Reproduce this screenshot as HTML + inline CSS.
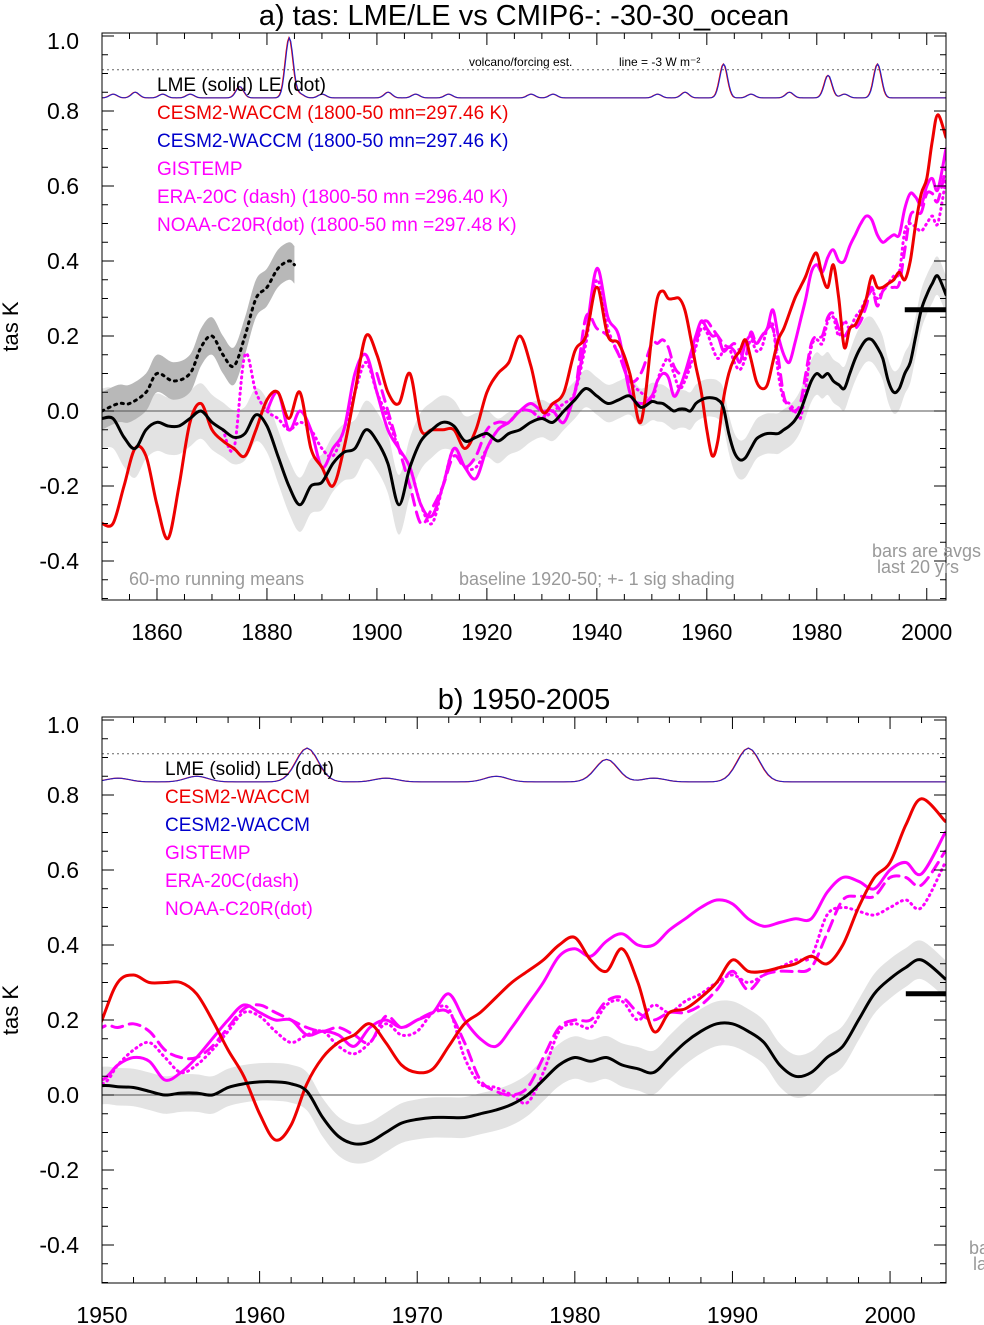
<!DOCTYPE html>
<html><head><meta charset="utf-8"><style>
html,body{margin:0;padding:0;background:#fff}
svg{display:block;font-family:"Liberation Sans",sans-serif}
</style></head><body>
<svg id="chart" width="984" height="1325" viewBox="0 0 984 1325" xmlns="http://www.w3.org/2000/svg"></svg>
<script>
// ---- data ----
const years = [];
for (let y = 1850; y <= 1948; y += 2) years.push(y);
for (let y = 1950; y <= 2002; y++) years.push(y);
years.push(2003.5);

const lme = [-0.02,-0.02,-0.07,-0.1,-0.05,-0.03,-0.04,-0.04,-0.02,0.0,-0.03,-0.05,-0.07,-0.06,-0.01,-0.04,-0.12,-0.2,-0.25,-0.2,-0.19,-0.14,-0.11,-0.1,-0.05,-0.08,-0.14,-0.25,-0.15,-0.08,-0.05,-0.03,-0.04,-0.08,-0.07,-0.06,-0.08,-0.06,-0.05,-0.03,-0.02,-0.03,0.0,0.03,0.06,0.04,0.02,0.03,0.04,0.01,
.025,.022,.02,.01,0,.005,.005,0,.02,.03,.035,.035,.03,.01,-.06,-.11,-.13,-.125,-.1,-.075,-.065,-.06,-.06,-.06,-.05,-.04,-.025,0,.04,.08,.1,.09,.1,.08,.07,.06,.1,.14,.17,.19,.19,.17,.14,.08,.05,.06,.1,.13,.2,.27,.31,.34,.36,.31];
const cesm = [-0.3,-0.3,-0.2,-0.1,-0.12,-0.25,-0.34,-0.2,-0.03,0.02,-0.05,-0.08,-0.1,-0.12,-0.05,0.03,0.05,-0.02,0.05,-0.1,-0.15,-0.2,-0.1,0.05,0.2,0.15,0.05,0.02,0.1,-0.05,-0.05,-0.05,-0.05,-0.1,-0.05,0.05,0.1,0.13,0.2,0.12,0.0,0.02,0.05,0.16,0.2,0.33,0.2,0.18,0.1,-0.03,
.2,.3,.32,.3,.3,.3,.27,.2,.12,.05,-.05,-.12,-.08,.03,.1,.14,.16,.19,.14,.08,.06,.07,.13,.19,.22,.26,.3,.33,.36,.4,.42,.36,.33,.39,.3,.17,.22,.23,.26,.3,.36,.33,.33,.34,.35,.37,.35,.4,.5,.58,.62,.72,.79,.73];
const gistemp = [null,null,null,null,null,null,null,null,null,null,null,null,null,null,null,
0.0,0.05,-0.05,0.0,-0.05,-0.15,-0.1,-0.05,0.1,0.15,0.05,-0.05,-0.1,-0.15,-0.25,-0.28,-0.2,-0.1,-0.15,-0.18,-0.1,-0.05,-0.03,0.0,0.02,0.0,0.0,-0.03,0.05,0.2,0.38,0.25,0.2,0.05,0.02,
.04,.08,.1,.09,.04,.06,.1,.15,.2,.24,.22,.2,.2,.16,.17,.16,.13,.18,.2,.18,.2,.22,.27,.2,.15,.13,.18,.24,.3,.37,.39,.37,.41,.43,.4,.4,.44,.47,.5,.52,.51,.47,.45,.46,.47,.47,.54,.58,.57,.55,.6,.62,.59,.7];
const era20c = [null,null,null,null,null,null,null,null,null,null,null,null,null,null,null,null,null,null,null,null,null,null,null,null,null,
0.1,0.0,-0.1,-0.2,-0.3,-0.26,-0.2,-0.12,-0.15,-0.12,-0.05,-0.03,-0.03,0.0,0.0,-0.02,0.02,0.0,0.05,0.25,0.22,0.2,0.15,0.08,0.1,
.18,.18,.19,.17,.12,.1,.1,.13,.18,.23,.24,.22,.2,.18,.17,.18,.16,.14,.21,.18,.2,.22,.22,.14,.04,.01,0,.02,.1,.18,.2,.2,.25,.26,.22,.2,.22,.22,.24,.28,.33,.28,.32,.33,.33,.34,.43,.52,.53,.53,.58,.58,.56,.65];
const noaa = [null,null,null,null,null,null,null,null,null,null,null,
-0.05,-0.1,0.15,0.05,0.0,-0.02,-0.05,-0.03,-0.05,-0.1,-0.12,-0.05,0.05,0.13,0.05,-0.02,-0.1,-0.15,-0.25,-0.3,-0.2,-0.1,-0.15,-0.15,-0.1,-0.05,-0.03,0.0,0.0,-0.02,0.0,0.02,0.05,0.18,0.35,0.22,0.15,0.08,0.05,
.03,.08,.12,.14,.1,.06,.08,.12,.17,.22,.21,.17,.14,.16,.17,.13,.11,.14,.19,.16,.17,.22,.23,.1,.03,.02,0,-.02,.06,.17,.19,.18,.24,.25,.2,.24,.22,.25,.27,.3,.32,.3,.32,.34,.36,.37,.48,.5,.49,.48,.5,.52,.5,.62];
const sigYears = [1850,1880,1905,1930,1960,1990,2003.5];
const sigVals = [0.08,0.07,0.08,0.05,0.05,0.06,0.05];
const leYears = [1850,1853,1855,1858,1860,1863,1866,1868,1870,1872,1874,1876,1878,1880,1882,1884,1885];
const leVals = [0.0,0.02,0.02,0.05,0.1,0.08,0.1,0.17,0.2,0.15,0.12,0.2,0.3,0.33,0.38,0.4,0.39];
const volcYears = [1852,1856,1861,1866,1875,1884,1886,1890,1902,1907,1913,1928,1932,1951,1956,1963,1968,1975,1982,1985,1991];
const volcPeaks = [0.01,0.015,0.01,0.01,0.03,0.16,0.01,0.01,0.015,0.01,0.01,0.01,0.01,0.01,0.015,0.09,0.01,0.015,0.06,0.01,0.09];
const barVal = 0.27;
const yTicks = [-0.4,-0.2,0.0,0.2,0.4,0.6,0.8,1.0];
const yTickLabels = ["-0.4","-0.2","0.0","0.2","0.4","0.6","0.8","1.0"];

// ---- drawing ----
const NS = "http://www.w3.org/2000/svg";
const svg = document.getElementById("chart");
function mk(tag, attrs, parent, text) {
  const e = document.createElementNS(NS, tag);
  for (const k in attrs) e.setAttribute(k, attrs[k]);
  if (text !== undefined) e.textContent = text;
  (parent || svg).appendChild(e);
  return e;
}
function interp(xs, vs, t) {
  if (t <= xs[0]) return vs[0];
  for (let i = 1; i < xs.length; i++) if (t <= xs[i]) { const f = (t - xs[i-1]) / (xs[i] - xs[i-1]); return vs[i-1] + f * (vs[i] - vs[i-1]); }
  return vs[vs.length - 1];
}
function smoothPath(pts) {
  if (pts.length < 2) return "";
  let d = "M" + pts[0][0].toFixed(1) + "," + pts[0][1].toFixed(1);
  for (let i = 0; i < pts.length - 1; i++) {
    const p0 = pts[i-1] || pts[i], p1 = pts[i], p2 = pts[i+1], p3 = pts[i+2] || p2;
    const c1 = [p1[0] + (p2[0]-p0[0])/6, p1[1] + (p2[1]-p0[1])/6];
    const c2 = [p2[0] - (p3[0]-p1[0])/6, p2[1] - (p3[1]-p1[1])/6];
    d += "C" + c1[0].toFixed(1) + "," + c1[1].toFixed(1) + " " + c2[0].toFixed(1) + "," + c2[1].toFixed(1) + " " + p2[0].toFixed(1) + "," + p2[1].toFixed(1);
  }
  return d;
}

function panel(cfg) {
  const g = mk("g", {});
  
  
  const X = t => cfg.x0 + (t - cfg.t0) * (cfg.x1 - cfg.x0) / (cfg.t1 - cfg.t0);
  const Y = v => cfg.yZero - v * 375;
  const clipId = "clip-" + cfg.name;
  const cp = mk("clipPath", {id: clipId}, g);
  mk("rect", {x: cfg.x0, y: cfg.top, width: cfg.x1 - cfg.x0, height: cfg.bottom - cfg.top}, cp);
  const plot = mk("g", {"clip-path": "url(#" + clipId + ")"}, g);

  const up = [], lo = [];
  years.forEach((t, i) => { if (t >= cfg.t0 - 2) { const s = interp(sigYears, sigVals, t); up.push([X(t), Y(lme[i] + s)]); lo.push([X(t), Y(lme[i] - s)]); } });
  const band = mk("path", {d: smoothPath(up) + "L" + smoothPath(lo.slice().reverse()).slice(1) + "Z", fill: "#e3e3e3", stroke: "none"}, plot);
  
  

  if (cfg.showLE) {
    const u2 = [], l2 = [], m2 = [];
    leYears.forEach((t, i) => { u2.push([X(t), Y(leVals[i] + 0.05)]); l2.push([X(t), Y(leVals[i] - 0.05)]); m2.push([X(t), Y(leVals[i])]); });
    const b2 = mk("path", {d: smoothPath(u2) + "L" + smoothPath(l2.slice().reverse()).slice(1) + "Z", fill: "#b8b8b8"}, plot);
    
    
    const le = mk("path", {d: smoothPath(m2), fill: "none", stroke: "#000", "stroke-width": 3, "stroke-dasharray": "2 5", "stroke-linecap": "round"}, plot);
    
    
  }

  mk("line", {x1: cfg.x0, x2: cfg.x1, y1: Y(0), y2: Y(0), stroke: "#555", "stroke-width": 1}, plot);
  mk("line", {x1: cfg.x0, x2: cfg.x1, y1: Y(0.91), y2: Y(0.91), stroke: "#666", "stroke-width": 1, "stroke-dasharray": "2 3"}, plot);

  const vpts = [];
  for (let t = cfg.t0; t <= cfg.t1; t += 0.25) {
    let v = 0.835;
    volcYears.forEach((vy, i) => { v += volcPeaks[i] * Math.exp(-Math.pow((t - vy) / 1.0, 2)); });
    vpts.push(X(t).toFixed(1) + "," + Y(v).toFixed(1));
  }
  const vr = mk("polyline", {points: vpts.join(" "), fill: "none", stroke: "#e00", "stroke-width": 1.2}, plot);
  
  
  const vb = mk("polyline", {points: vpts.join(" "), fill: "none", stroke: "#22c", "stroke-width": 1, transform: "translate(0.5,0)"}, plot);
  
  

  function series(vals, color, dash, width, name) {
    let seg = [];
    const segs = [];
    years.forEach((t, i) => {
      if (vals[i] === null || t < cfg.t0 - 2) { if (seg.length) segs.push(seg); seg = []; return; }
      seg.push([X(t), Y(vals[i])]);
    });
    if (seg.length) segs.push(seg);
    const d = segs.map(smoothPath).join(" ");
    const p = mk("path", {d: d, fill: "none", stroke: color, "stroke-width": width, "stroke-linecap": "round", "stroke-linejoin": "round"}, plot);
    if (dash) p.setAttribute("stroke-dasharray", dash);
    
    
  }
  series(noaa, "#f0f", "1 4.5", 3, "noaa-c20r-line");
  series(era20c, "#f0f", "11 7", 3, "era-20c-line");
  series(gistemp, "#f0f", null, 3, "gistemp-line");
  series(cesm, "#e00", null, 3, "cesm2-waccm-line");
  series(lme, "#000", null, 3, "lme-line");

  const bar = mk("line", {x1: X(cfg.barStart), x2: X(cfg.t1), y1: Y(barVal), y2: Y(barVal), stroke: "#000", "stroke-width": 5}, plot);
  
  

  mk("rect", {x: cfg.x0, y: cfg.top, width: cfg.x1 - cfg.x0, height: cfg.bottom - cfg.top, fill: "none", stroke: "#000", "stroke-width": 1}, g);
  for (let v = -0.5; v <= 1.001; v += 0.05) {
    const yy = Y(v);
    if (yy < cfg.top || yy > cfg.bottom) continue;
    const major = Math.abs(Math.round(v * 100) % 20) === 0;
    const L = major ? 12 : 6;
    mk("line", {x1: cfg.x0, x2: cfg.x0 + L, y1: yy, y2: yy, stroke: "#000"}, g);
    mk("line", {x1: cfg.x1, x2: cfg.x1 - L, y1: yy, y2: yy, stroke: "#000"}, g);
  }
  yTicks.forEach((v, i) => {
    const yy = Math.max(Y(v), cfg.top + 8);
    const t = mk("text", {x: cfg.x0 - 23, y: yy + 8, "text-anchor": "end", "font-size": 23}, g, yTickLabels[i]);
    
    
  });
  for (let t = Math.ceil(cfg.t0); t <= cfg.t1; t++) {
    if (t % cfg.minor) continue;
    const major = t % cfg.major === 0;
    const L = major ? 12 : 6;
    mk("line", {x1: X(t), x2: X(t), y1: cfg.bottom, y2: cfg.bottom - L, stroke: "#000"}, g);
    mk("line", {x1: X(t), x2: X(t), y1: cfg.top, y2: cfg.top + L, stroke: "#000"}, g);
    if (major) {
      const tl = mk("text", {x: X(t), y: cfg.bottom + 40, "text-anchor": "middle", "font-size": 23}, g, String(t));
      
      
    }
  }
  const yt = mk("text", {x: 18, y: (cfg.top + cfg.bottom) / 2 + 10, transform: "rotate(-90 18 " + ((cfg.top + cfg.bottom) / 2 + 10) + ")", "text-anchor": "middle", "font-size": 22}, g, "tas K");
  
  
  const tt = mk("text", {x: cfg.titleX, y: cfg.top - 8, "text-anchor": "middle", "font-size": 29}, g, cfg.title);
  
  

  cfg.legend.forEach((l, i) => {
    const e = mk("text", {x: cfg.legX, y: cfg.legY + i * 28, "font-size": 19, fill: l[1]}, g, l[0]);
    
    
  });
  return {g, X, Y};
}

panel({name: "panel-a", x0: 102, x1: 946, t0: 1850, t1: 2003.5, top: 33, bottom: 600, yZero: 411,
  minor: 5, major: 20, barStart: 1996, titleX: 524, title: "a) tas: LME/LE vs CMIP6-: -30-30_ocean", showLE: true,
  legX: 157, legY: 91, legend: [["LME (solid)   LE (dot)", "#000"], ["CESM2-WACCM (1800-50 mn=297.46 K)", "#e00"], ["CESM2-WACCM (1800-50 mn=297.46 K)", "#0000cc"], ["GISTEMP", "#f0f"], ["ERA-20C (dash) (1800-50 mn =296.40 K)", "#f0f"], ["NOAA-C20R(dot) (1800-50 mn =297.48 K)", "#f0f"]]});
panel({name: "panel-b", x0: 102, x1: 946, t0: 1950, t1: 2003.55, top: 717, bottom: 1283, yZero: 1095,
  minor: 2, major: 10, barStart: 2001, titleX: 524, title: "b) 1950-2005", showLE: false,
  legX: 165, legY: 775, legend: [["LME (solid)       LE (dot)", "#000"], ["CESM2-WACCM", "#e00"], ["CESM2-WACCM", "#0000cc"], ["GISTEMP", "#f0f"], ["ERA-20C(dash)", "#f0f"], ["NOAA-C20R(dot)", "#f0f"]]});

function note(x, y, s, txt, fill, name) {
  const e = mk("text", {x: x, y: y, "font-size": s, fill: fill}, svg, txt);
  
  
}
note(469, 66, 12, "volcano/forcing est.", "#000", "volcano-note");
note(619, 66, 12, "line = -3 W m\u207B\u00B2", "#000", "forcing-line-note");
note(129, 585, 18, "60-mo running means", "#999", "running-mean-note");
note(459, 585, 18, "baseline 1920-50; +- 1 sig shading", "#999", "baseline-note");
note(872, 557, 18, "bars are avgs", "#999", "bars-note");
note(877, 573, 18, "last 20 yrs", "#999", "bars-note-2");
note(969, 1254, 18, "ba", "#999", "bars-note-b");
note(973, 1270, 18, "la", "#999", "bars-note-b2");
</script>
</body></html>
